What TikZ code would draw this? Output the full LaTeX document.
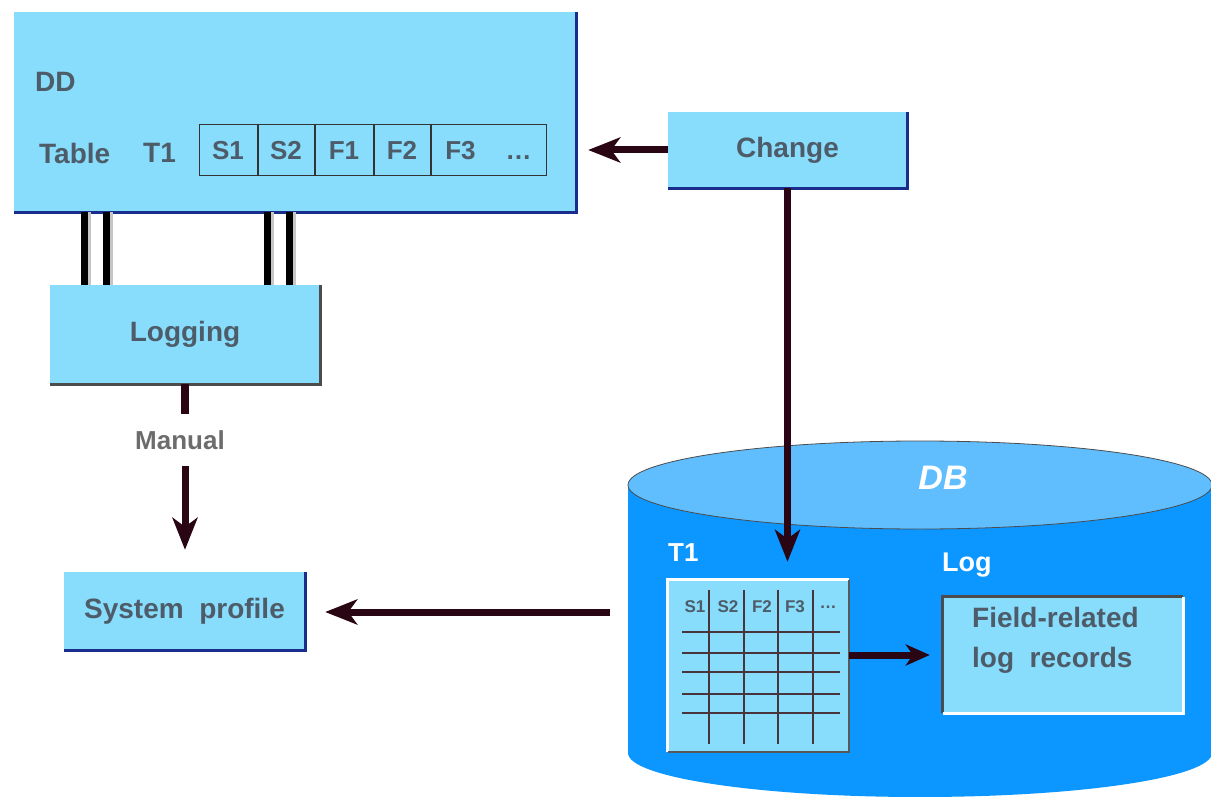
\documentclass[tikz,border=0pt]{standalone}
\usepackage{fontspec}
\setmainfont{Liberation Sans}
\usetikzlibrary{positioning}
\usetikzlibrary{arrows.meta}

\definecolor{boxblue}{RGB}{135,221,251}
\definecolor{dbblue}{RGB}{12,150,255}
\definecolor{dbtop}{RGB}{96,190,255}
\definecolor{navy}{RGB}{25,45,140}
\definecolor{slate}{RGB}{78,92,105}
\definecolor{arrowred}{RGB}{42,6,20}
\definecolor{gridgray}{RGB}{72,52,58}

\tikzset{
    panel/.style={rectangle, fill=boxblue, inner sep=0pt, text=slate,
        font=\fontsize{28}{30}\selectfont\bfseries},
    txt/.style={inner sep=0pt, text=slate, font=\fontsize{28}{40}\selectfont\bfseries},
    whitetxt/.style={inner sep=0pt, text=white, font=\fontsize{26}{28}\selectfont\bfseries},
    cell/.style={rectangle, draw=gray!40!black, line width=1pt, fill=boxblue,
        minimum height=51pt, inner sep=0pt, text=slate,
        font=\fontsize{26}{28}\selectfont\bfseries},
    rim/.style={line width=3pt, draw=navy},
    gridline/.style={line width=1.2pt, draw=gridgray},
    arr/.style={line width=7pt, draw=arrowred,
        -{Stealth[length=32pt,width=25pt,inset=9pt,fill=arrowred]}},
}

\begin{document}
\begin{tikzpicture}[x=1pt,y=-1pt]
    \useasboundingbox (0,0) rectangle (1211,797);
    %DB cylinder
    \fill[dbblue] (628,485) -- (628,753)
        arc[start angle=180, end angle=0, x radius=292, y radius=44] -- (1212,485) -- cycle;
    \filldraw[fill=dbtop, draw=gray!60!black, line width=0.8pt] (920,485) ellipse[x radius=292, y radius=44];

    %Boxes
    \node[panel, minimum width=562pt, minimum height=200pt] (dd) at (295,112) {};
    \node[panel, minimum width=270pt, minimum height=99pt] (logging) at (185,334.5) {Logging};
    \node[panel, minimum width=239pt, minimum height=76pt] (change) at (787.5,150) {Change};
    \node[panel, minimum width=241pt, minimum height=78pt] (sysprof) at (184.5,611) {System\ \ profile};
    \foreach \n in {dd,change,sysprof}
        \draw[rim] (\n.north east) -- (\n.south east) -- (\n.south west);
    \draw[rim, draw=gray!60!black] (logging.north east) -- (logging.south east) -- (logging.south west);

    \node[txt, anchor=west] (ddname) at (35,82) {DD};
    \node[txt, anchor=west] (tblname) at (39,153) {Table};
    \node[txt, anchor=west] (tblid) at (143,153) {T1};
    \begin{scope}[every node/.style={cell}]
        \node[minimum width=58pt] (s1) at (228,150.5) {S1};
        \node[minimum width=56pt, right=0pt of s1] (s2) {S2};
        \node[minimum width=58pt, right=0pt of s2] (f1) {F1};
        \node[minimum width=56pt, right=0pt of f1] (f2) {F2};
        \node[minimum width=115pt, right=0pt of f2] (f3) {F3\hspace{30pt}\ldots};
    \end{scope}

    %Table in DB
    \node[rectangle, fill=boxblue, minimum width=181pt, minimum height=172pt, inner sep=0pt] (tbl) at (758.5,666) {};
    \draw[white, line width=3pt] (tbl.south west) -- (tbl.north west) -- (tbl.north east);
    \draw[gray!70!black, line width=2pt] (tbl.north east) -- (tbl.south east) -- (tbl.south west);
    \foreach \x in {709,744,778,813}
        \draw[gridline] (\x,590) -- (\x,744);
    \foreach \y in {632,653,672,694,713}
        \draw[gridline] (682,\y) -- (840,\y);
    \foreach \x/\t [count=\i] in {695/S1,728/S2,762/F2,795/F3,828/\ldots}
        \node[inner sep=0pt, text=slate, font=\fontsize{17}{19}\selectfont\bfseries] (hd\i) at (\x,607) {\t};

    \node[rectangle, fill=boxblue, minimum width=240pt, minimum height=116pt, inner sep=0pt] (logbox) at (1063,655) {};
    \draw[gray!60!black, line width=3pt] (logbox.south west) -- (logbox.north west) -- (logbox.north east);
    \draw[white, line width=3pt] (logbox.north east) -- (logbox.south east) -- (logbox.south west);
    \node[txt, anchor=north west, align=left] (logtxt) at (972,607) {Field-related\\log\ \ records};

    \node[whitetxt, anchor=west] (dbtbl) at (668,553) {T1};
    \node[whitetxt, anchor=west, font=\fontsize{27}{29}\selectfont\bfseries] (logname) at (942,565) {Log};
    \node[whitetxt, font=\fontsize{34}{36}\selectfont\bfseries\itshape] (dbname) at (943,478) {DB};

    %Lines
    \foreach \x [evaluate=\x as \xs using \x+5] in {84,106,267,289} {
        \draw[line width=4pt, gray!45] (dd.south -| \xs,0) -- (logging.north -| \xs,0);
        \draw[line width=7pt, black] (dd.south -| \x,0) -- (logging.north -| \x,0);
    }
    \node[inner sep=0pt, minimum height=52pt, text=gray!85!black, font=\fontsize{26}{28}\selectfont\bfseries] (manual) at (180,440) {Manual};
    \draw[line width=8pt, arrowred] (logging.south) -- (manual.north -| logging.south);
    \draw[arr, shorten >=22pt] (manual.south -| logging.south) -- (sysprof.north -| logging.south);
    \draw[arr, shorten >=12pt] (change.west) -- (change.west -| dd.east);
    \draw[arr, shorten >=18pt] (change.south) -- (tbl.north -| change.south);
    \coordinate (dbside) at (610,612);
    \draw[arr, shorten >=20pt] (dbside) -- (sysprof.east |- dbside);
    \draw[arr, -{Stealth[length=24pt,width=21pt,inset=7pt,fill=arrowred]}, shorten >=13pt] (tbl.east |- logbox.west) -- (logbox.west);
\end{tikzpicture}
\end{document}
